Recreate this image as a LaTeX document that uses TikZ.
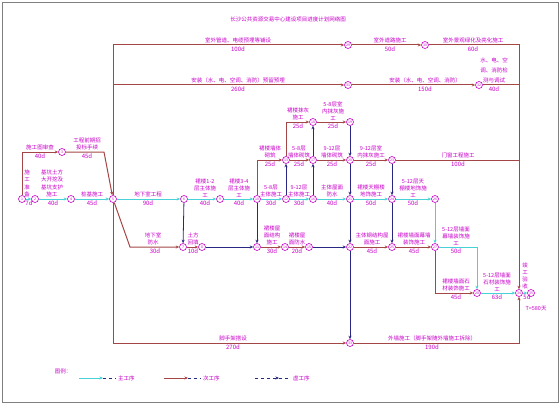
\documentclass[tikz,border=0pt]{standalone}
\usepackage{fontspec}
\newfontfamily\cjk{Noto Sans CJK SC}
\usetikzlibrary{arrows.meta}
\definecolor{maincol}{RGB}{70,210,215}
\definecolor{subcol}{RGB}{165,70,70}
\definecolor{dumcol}{RGB}{40,40,130}
\definecolor{txtcol}{RGB}{200,0,200}
\begin{document}
\begin{tikzpicture}[x=1pt,y=-1pt,>={Stealth[length=3.5pt,width=3pt]},
  ev/.style={circle,draw=txtcol,fill=white,line width=0.6pt,inner sep=0pt,minimum size=7pt,font=\cjk\fontsize{3.5}{4}\selectfont,text=txtcol},
  lbl/.style={font=\cjk\fontsize{5.5}{7}\selectfont,text=txtcol,align=center,inner sep=0pt,anchor=south},
  dur/.style={font=\cjk\fontsize{6}{7}\selectfont,text=txtcol,inner sep=0pt,anchor=north},
  lgd/.style={font=\cjk\fontsize{5.5}{7}\selectfont,text=txtcol,inner sep=0pt},
  mainln/.style={draw=maincol,line width=1pt},
  subln/.style={draw=subcol,line width=1pt},
  dumln/.style={draw=dumcol,line width=0.8pt}]
\useasboundingbox (0,0) rectangle (560,404);
\draw[gray,line width=0.8pt] (2,2) rectangle (558,402);
\node[lgd] (title) at (288,19) {长沙公共资源交易中心建设项目进度计划网络图};
\node[ev] (n1) at (22,199) {1};
\node[ev] (n2) at (35,199) {2};
\node[ev] (n4) at (62,152) {3};
\node[ev] (n3) at (71,199) {4};
\node[ev] (n5) at (113,199) {5};
\node[ev] (n6) at (184,199) {6};
\node[ev] (n7) at (183,247) {7};
\node[ev] (n8) at (202,247) {8};
\node[ev] (n9) at (220,199) {9};
\node[ev] (n10) at (257,199) {10};
\node[ev] (n11) at (257,247) {11};
\node[ev] (n14) at (286,199) {12};
\node[ev] (n15) at (286,160) {13};
\node[ev] (n12) at (285,247) {14};
\node[ev] (n13) at (309,247) {15};
\node[ev] (n16) at (313,199) {16};
\node[ev] (n17) at (313,160) {17};
\node[ev] (n18) at (313,122) {18};
\node[ev] (n19) at (350,122) {19};
\node[ev] (n20) at (350,160) {20};
\node[ev] (n21) at (350,199) {21};
\node[ev] (n22) at (350,247) {22};
\node[ev] (n23) at (392,160) {23};
\node[ev] (n24) at (392,199) {24};
\node[ev] (n25) at (392,247) {25};
\node[ev] (n26) at (435,199) {26};
\node[ev] (n27) at (435,247) {27};
\node[ev] (n28) at (477,293) {28};
\node[ev] (n31) at (348,45) {29};
\node[ev] (n32) at (425,45) {30};
\node[ev] (n33) at (348,85) {31};
\node[ev] (n34) at (479,85) {32};
\node[ev] (n35) at (350,343) {33};
\node[ev] (n29) at (519,293) {34};
\node[ev] (n30) at (531,293) {35};
\coordinate (b1) at (104,152);
\coordinate (b2) at (130,247);
\coordinate (j1) at (519,160);
\coordinate (j2) at (519,85);
\draw[mainln,->] (n1) -- (n2);
\draw[mainln,->] (n2) -- (n3);
\draw[mainln,->] (n3) -- (n5);
\draw[mainln,->] (n5) -- (n6);
\draw[mainln,->] (n6) -- (n9);
\draw[mainln,->] (n9) -- (n10);
\draw[mainln,->] (n10) -- (n14);
\draw[mainln,->] (n14) -- (n16);
\draw[mainln,->] (n16) -- (n21);
\draw[mainln,->] (n21) -- (n24);
\draw[mainln,->] (n24) -- (n26);
\draw[mainln,->] (n26) -- (n27);
\draw[mainln,->] (n27) -| (n28);
\draw[mainln,->] (n28) -- (n29);
\draw[mainln,->] (n29) -- (n30);
\draw[subln,->] (n1) |- (n4);
\draw[subln,->] (n4) -- (b1) -- (n5);
\draw[subln,->] (n5) -- (b2) -- (n7);
\draw[subln,->] (n7) -- (n8);
\draw[subln,->] (n11) -- (n12);
\draw[subln,->] (n12) -- (n13);
\draw[subln,->] (n10) |- (n15);
\draw[subln,->] (n15) -- (n17);
\draw[subln,->] (n17) -- (n20);
\draw[subln,->] (n20) -- (n23);
\draw[subln] (n23) -- (j1);
\draw[subln,->] (n15) |- (n18);
\draw[subln,->] (n18) -- (n19);
\draw[subln,->] (n22) -- (n25);
\draw[subln,->] (n25) -- (n27);
\draw[subln,->] (n27) |- (n28);
\draw[subln,->] (n5) |- (n31);
\draw[subln,->] (n31) -- (n32);
\draw[subln,->] (n32) -| (n29);
\draw[subln,->] (n5) |- (n33);
\draw[subln,->] (n33) -- (n34);
\draw[subln] (n34) -- (j2);
\draw[subln,->] (n5) |- (n35);
\draw[subln,->] (n35) -| (n29);
\draw[dumln,->] (n6) -- (n7);
\draw[dumln,->] (n8) -- (n11);
\draw[dumln,->] (n10) -- (n11);
\draw[dumln,->] (n13) -- (n22);
\draw[dumln,->] (n14) -- (n15);
\draw[dumln,->] (n16) -- (n17);
\draw[dumln,->] (n17) -- (n18);
\draw[dumln,->] (n19) -- (n20);
\draw[dumln,->] (n20) -- (n21);
\draw[dumln,->] (n21) -- (n22);
\draw[dumln,->] (n22) -- (n35);
\draw[dumln,->] (n23) -- (n24);
\draw[dumln,->] (n24) -- (n25);
\node[lbl] (l1) at (238,43.5) {室外管道、电缆预埋等铺设};
\node[dur] (d1) at (238,46.5) {100d};
\node[lbl] (l2) at (390,43.5) {室外道路施工};
\node[dur] (d2) at (390,46.5) {50d};
\node[lbl] (l3) at (473,43.5) {室外景观绿化及亮化施工};
\node[dur] (d3) at (473,46.5) {60d};
\node[lbl] (l4) at (238,83.5) {安装（水、电、空调、消防）预留预埋};
\node[dur] (d4) at (238,86.5) {260d};
\node[lbl] (l5) at (425,83.5) {安装（水、电、空调、消防）};
\node[dur] (d5) at (425,86.5) {150d};
\node[lbl,font=\cjk\fontsize{5.5}{10}\selectfont] (l6) at (494,83.5) {水、电、空\\调、消防检\\测与调试};
\node[dur] (d6) at (494,86.5) {40d};
\node[lbl] (l7) at (40,150.5) {施工图审查};
\node[dur] (d7) at (40,153.5) {40d};
\node[lbl] (l8) at (87,150.5) {工程前期招\\投标手续};
\node[dur] (d8) at (87,153.5) {45d};
\node[lbl,font=\cjk\fontsize{5.5}{7.5}\selectfont] (l9) at (27,197.5) {施\\工\\准\\备};
\node[dur] (d9) at (29,200.5) {7d};
\node[lbl,font=\cjk\fontsize{5.5}{7.5}\selectfont] (l10) at (52,197.5) {基坑土方\\大开挖及\\基坑支护\\施工};
\node[dur] (d10) at (53,200.5) {40d};
\node[lbl] (l11) at (92,197.5) {桩基施工};
\node[dur] (d11) at (92,200.5) {45d};
\node[lbl] (l12) at (148,197.5) {地下室工程};
\node[dur] (d12) at (148,200.5) {90d};
\node[lbl] (l13) at (153,245.5) {地下室\\防水};
\node[dur] (d13) at (155,248.5) {30d};
\node[lbl] (l14) at (193,245.5) {土方\\回填};
\node[dur] (d14) at (193,248.5) {10d};
\node[lbl] (l15) at (205,197.5) {裙楼1-2\\层主体施\\工};
\node[dur] (d15) at (205,200.5) {40d};
\node[lbl] (l16) at (239,197.5) {裙楼3-4\\层主体施\\工};
\node[dur] (d16) at (239,200.5) {40d};
\node[lbl] (l17) at (271,197.5) {5-8层\\主体施工};
\node[dur] (d17) at (271,200.5) {30d};
\node[lbl] (l18) at (299,197.5) {9-12层\\主体施工};
\node[dur] (d18) at (299,200.5) {30d};
\node[lbl] (l19) at (332,197.5) {主体屋面\\防水};
\node[dur] (d19) at (332,200.5) {40d};
\node[lbl] (l20) at (371,197.5) {裙楼天棚楼\\地饰施工};
\node[dur] (d20) at (371,200.5) {50d};
\node[lbl] (l21) at (413,197.5) {5-12层天\\棚楼地饰施\\工};
\node[dur] (d21) at (413,200.5) {50d};
\node[lbl] (l22) at (270,158.5) {裙楼墙体\\砌筑};
\node[dur] (d22) at (270,161.5) {25d};
\node[lbl] (l23) at (299,158.5) {5-8层\\墙体砌筑};
\node[dur] (d23) at (299,161.5) {25d};
\node[lbl] (l24) at (332,158.5) {9-12层\\墙体砌筑};
\node[dur] (d24) at (332,161.5) {25d};
\node[lbl] (l25) at (371,158.5) {9-12层室\\内抹灰施工};
\node[dur] (d25) at (371,161.5) {25d};
\node[lbl] (l26) at (458,158.5) {门窗工程施工};
\node[dur] (d26) at (458,161.5) {100d};
\node[lbl] (l27) at (298,120.5) {裙楼抹灰\\施工};
\node[dur] (d27) at (298,123.5) {25d};
\node[lbl] (l28) at (333,120.5) {5-8层室\\内抹灰施\\工};
\node[dur] (d28) at (333,123.5) {25d};
\node[lbl] (l29) at (272,245.5) {裙楼屋\\面结构\\施工};
\node[dur] (d29) at (272,248.5) {30d};
\node[lbl] (l30) at (297,245.5) {裙楼屋\\面防水};
\node[dur] (d30) at (297,248.5) {20d};
\node[lbl] (l31) at (372,245.5) {主体钢结构屋\\面施工};
\node[dur] (d31) at (372,248.5) {45d};
\node[lbl] (l32) at (414,245.5) {裙楼墙面幕墙\\装饰施工};
\node[dur] (d32) at (414,248.5) {45d};
\node[lbl] (l33) at (456,245.5) {5-12层墙面\\幕墙装饰施\\工};
\node[dur] (d33) at (456,248.5) {50d};
\node[lbl] (l34) at (456,291.5) {裙楼墙面石\\材装饰施工};
\node[dur] (d34) at (456,294.5) {45d};
\node[lbl] (l35) at (497,291.5) {5-12层墙面\\石材装饰施\\工};
\node[dur] (d35) at (497,294.5) {63d};
\node[lbl,font=\cjk\fontsize{5.5}{6.8}\selectfont] (l36) at (525,289) {竣\\工\\验\\收};
\node[dur] (d36) at (527,294.5) {5d};
\node[lgd] (tt) at (536,309) {T=580天};
\node[lbl] (l37) at (233,341.5) {脚手架搭设};
\node[dur] (d37) at (233,344.5) {270d};
\node[lbl] (l38) at (432,341.5) {外墙施工（脚手架随外墙施工拆除）};
\node[dur] (d38) at (432,344.5) {190d};
\node[lgd] (lg) at (63,371) {图例：};
\coordinate (a1) at (79,378);
\coordinate (a2) at (103,378);
\coordinate (a3) at (116,378);
\draw[mainln,->] (a1) -- (a2);
\draw[dumln,dashed] (a2) -- (a3);
\node[lgd,anchor=west] (lg1) at (118,378) {主工序};
\coordinate (a4) at (164,378);
\coordinate (a5) at (188,378);
\coordinate (a6) at (201,378);
\draw[subln,->] (a4) -- (a5);
\draw[dumln,dashed] (a5) -- (a6);
\node[lgd,anchor=west] (lg2) at (203,378) {次工序};
\coordinate (a7) at (255,378);
\coordinate (a8) at (279,378);
\coordinate (a9) at (291,378);
\draw[dumln,dashed,->] (a7) -- (a8);
\draw[dumln,dashed] (a8) -- (a9);
\node[lgd,anchor=west] (lg3) at (293,378) {虚工序};
\end{tikzpicture}
\end{document}
